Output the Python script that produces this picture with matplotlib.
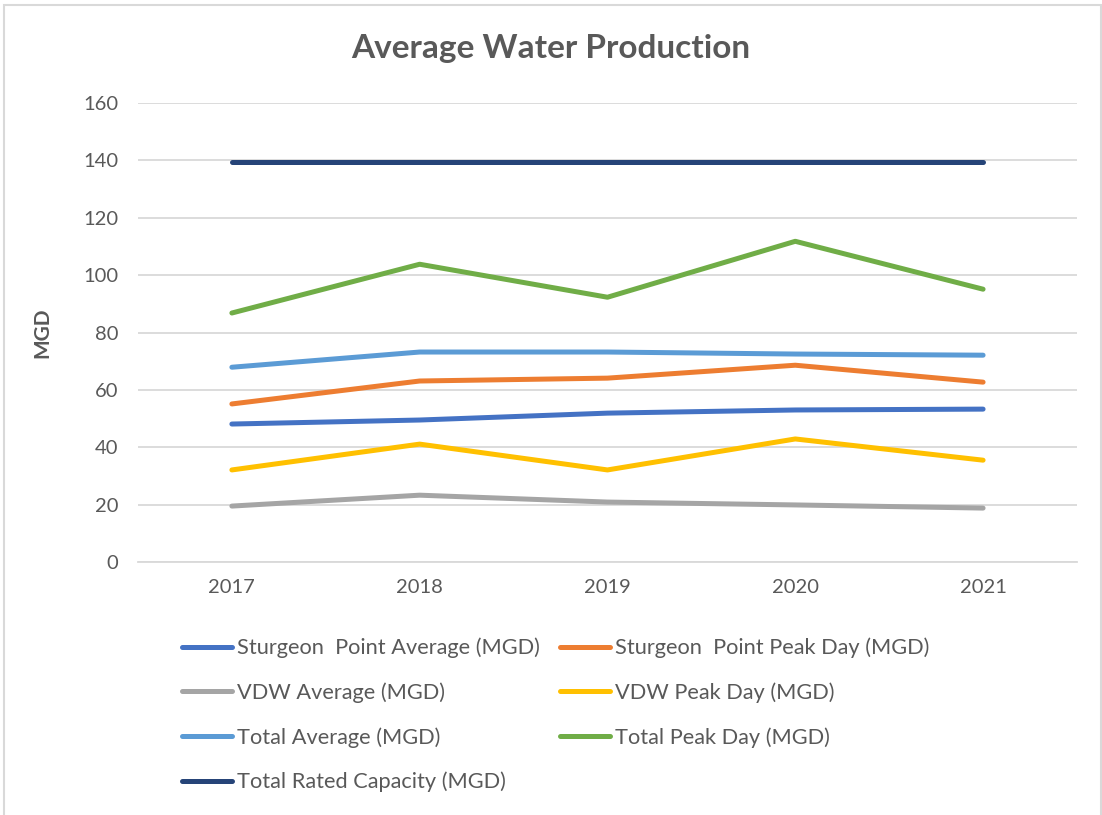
import matplotlib.pyplot as plt
from matplotlib.patches import Rectangle

# Data
years = ['2017', '2018', '2019', '2020', '2021']
sp_average = [48.1, 49.5, 51.9, 53.0, 53.3]
sp_peak = [55.1, 63.1, 64.1, 68.6, 62.7]
vdw_average = [19.5, 23.3, 20.9, 19.9, 18.8]
vdw_peak = [32.1, 41.1, 32.1, 42.9, 35.5]
total_average = [67.9, 73.2, 73.2, 72.5, 72.1]
total_peak = [86.8, 103.8, 92.3, 111.8, 95.1]
rated_capacity = [139.5, 139.5, 139.5, 139.5, 139.5]

series = [
    ('Sturgeon  Point Average (MGD)', sp_average, '#4472C4'),
    ('Sturgeon  Point Peak Day (MGD)', sp_peak, '#ED7D31'),
    ('VDW Average (MGD)', vdw_average, '#A5A5A5'),
    ('VDW Peak Day (MGD)', vdw_peak, '#FFC000'),
    ('Total Average (MGD)', total_average, '#5B9BD5'),
    ('Total Peak Day (MGD)', total_peak, '#70AD47'),
    ('Total Rated Capacity (MGD)', rated_capacity, '#264478'),
]

plt.rcParams['font.family'] = ['Lato', 'DejaVu Sans']
text_color = '#595959'

fig = plt.figure(figsize=(11.02, 8.15), dpi=100)
ax = fig.add_axes([0.1252, 0.3104, 0.9773 - 0.1252, 0.8736 - 0.3104])

x = range(len(years))
handles = {}
for name, vals, col in series:
    h, = ax.plot(x, vals, color=col, lw=3.6, solid_capstyle='round',
                 solid_joinstyle='round', label=name)
    handles[name] = h

ax.set_xlim(-0.5, len(years) - 0.5)
ax.set_ylim(0, 160)
ax.set_yticks(range(0, 161, 20))
ax.set_xticks(list(x))
ax.set_xticklabels(years)
ax.grid(axis='y', color='#D9D9D9', lw=1.3)
ax.set_axisbelow(True)
for s in ['top', 'right', 'left']:
    ax.spines[s].set_visible(False)
ax.spines['bottom'].set_color('#D9D9D9')
ax.spines['bottom'].set_linewidth(1.3)
ax.tick_params(length=0, labelsize=14.5, labelcolor=text_color, pad=14)
ax.tick_params(axis='x', pad=12)

ax.set_ylabel('MGD', fontsize=15, fontweight='bold', color=text_color, labelpad=22)
fig.text(0.5, 0.94, 'Average Water Production', ha='center', va='center',
         fontsize=24, fontweight='bold', color=text_color)

# legend filled column by column, so reorder to get Excel's row-wise layout
order = [0, 2, 4, 6, 1, 3, 5]
hs = [handles[series[i][0]] for i in order]
ls = [series[i][0] for i in order]
leg = fig.legend(hs, ls, ncol=2, loc='upper left', bbox_to_anchor=(0.157, 0.228),
                 frameon=False, fontsize=15.7, handlelength=2.3, handletextpad=0.23,
                 columnspacing=0.92, labelspacing=1.1, borderaxespad=0)
for t in leg.get_texts():
    t.set_color(text_color)

# light chart-area border
fig.patches.append(Rectangle((0.004, -0.01), 0.995, 1.004, transform=fig.transFigure,
                             fill=False, edgecolor='#D9D9D9', lw=1.5))

fig.savefig('out.png', dpi=100)
